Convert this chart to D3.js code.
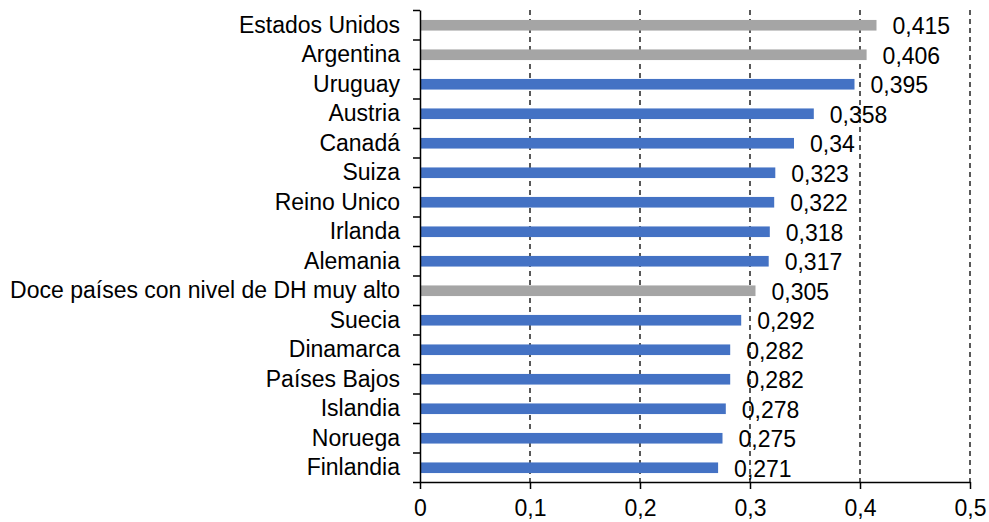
<!DOCTYPE html>
<html>
<head>
<meta charset="utf-8">
<script src="https://cdn.jsdelivr.net/npm/d3@7/dist/d3.min.js"></script>
<style>
  html, body { margin: 0; padding: 0; background: #fff; }
  svg { display: block; }
  text { font-family: Arial, "Liberation Sans", sans-serif; fill: #000; }
</style>
</head>
<body>
<svg id="chart" width="989" height="522"></svg>
<script>
const categories = ["Estados Unidos", "Argentina", "Uruguay", "Austria", "Canadá", "Suiza", "Reino Unico", "Irlanda", "Alemania", "Doce países con nivel de DH muy alto", "Suecia", "Dinamarca", "Países Bajos", "Islandia", "Noruega", "Finlandia"];
const values = [0.415, 0.406, 0.395, 0.358, 0.34, 0.323, 0.322, 0.318, 0.317, 0.305, 0.292, 0.282, 0.282, 0.278, 0.275, 0.271];
const highlighted = ["Estados Unidos", "Argentina", "Doce países con nivel de DH muy alto"];
const xTicks = [0, 0.1, 0.2, 0.3, 0.4, 0.5];

(function () {
const data = categories.map((c, i) => ({ name: c, value: values[i] }));
const fmt = v => String(v).replace(".", ",");

const svg = d3.select("#chart");
const mLeft = 420, mRight = 970, mTop = 10, mBottom = 482;
const fontSize = 23;

const x = d3.scaleLinear().domain([0, 0.5]).range([mLeft, mRight]);
const y = d3.scaleBand().domain(categories).range([mTop, mBottom]).paddingInner(0.64).paddingOuter(0.32);
const yIdx = d3.scaleLinear().domain([0, categories.length]).range([mTop, mBottom]);

// grid lines
svg.append("g").selectAll("line")
  .data(xTicks.filter(d => d > 0))
  .join("line")
  .attr("x1", d => x(d)).attr("x2", d => x(d))
  .attr("y1", mTop).attr("y2", mBottom)
  .attr("stroke", "#000").attr("stroke-width", 1.3)
  .attr("stroke-dasharray", "5,4");

// bars
svg.append("g").selectAll("rect")
  .data(data)
  .join("rect")
  .attr("x", x(0))
  .attr("y", d => y(d.name) + 0.5)
  .attr("width", d => x(d.value) - x(0))
  .attr("height", y.bandwidth())
  .attr("fill", d => highlighted.includes(d.name) ? "#A5A5A5" : "#4472C4");

// value labels
svg.append("g").selectAll("text")
  .data(data)
  .join("text")
  .attr("x", d => x(d.value) + 16)
  .attr("y", d => y(d.name) + y.bandwidth() / 2)
  .attr("dy", "0.42em")
  .attr("font-size", fontSize)
  .text(d => fmt(d.value));

// category labels
svg.append("g").selectAll("text")
  .data(data)
  .join("text")
  .attr("x", 400)
  .attr("y", d => y(d.name) + y.bandwidth() / 2)
  .attr("dy", "0.35em")
  .attr("text-anchor", "end")
  .attr("font-size", fontSize)
  .text(d => d.name);

// y axis with ticks at category boundaries
const yAxis = svg.append("g")
  .attr("transform", `translate(${mLeft},0)`)
  .call(d3.axisLeft(yIdx).tickValues(d3.range(categories.length + 1)).tickSize(7).tickSizeOuter(0).tickFormat(""));
yAxis.select(".domain").attr("stroke", "#000").attr("stroke-width", 1.5);
yAxis.selectAll(".tick line").attr("stroke", "#000").attr("stroke-width", 1.5);

// x axis
const xAxis = svg.append("g")
  .attr("transform", `translate(0,${mBottom})`)
  .call(d3.axisBottom(x).tickValues(xTicks).tickSize(7).tickSizeOuter(0).tickPadding(11)
    .tickFormat(d => d === 0 ? "0" : d.toFixed(1).replace(".", ",")));
xAxis.select(".domain").attr("stroke", "#000").attr("stroke-width", 1.5);
xAxis.selectAll(".tick line").attr("stroke", "#000").attr("stroke-width", 1.5);
xAxis.selectAll(".tick text").attr("font-size", fontSize).attr("font-family", "Arial, 'Liberation Sans', sans-serif").attr("fill", "#000");
})();
</script>
</body>
</html>
